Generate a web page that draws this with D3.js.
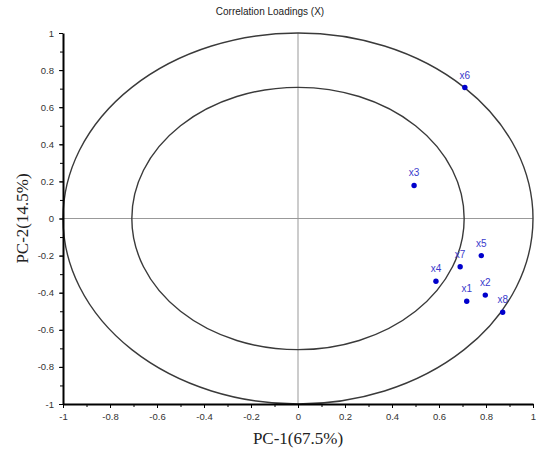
<!DOCTYPE html>
<html>
<head>
<meta charset="utf-8">
<script src="https://cdn.jsdelivr.net/npm/d3@7"></script>
<style>
  body { margin: 0; background: #fff; }
  svg { display: block; }
  .tick text { font-family: Arial, "Liberation Sans", sans-serif; font-size: 9.5px; fill: #333; }
</style>
</head>
<body>
<svg id="chart" width="536" height="452"></svg>
<script>
const labels = ['x1', 'x2', 'x3', 'x4', 'x5', 'x6', 'x7', 'x8'];
const pc1 = [0.718, 0.797, 0.494, 0.587, 0.780, 0.710, 0.690, 0.871];
const pc2 = [-0.446, -0.413, 0.178, -0.338, -0.200, 0.706, -0.260, -0.505];
const majorTicks = [-1, -0.8, -0.6, -0.4, -0.2, 0, 0.2, 0.4, 0.6, 0.8, 1];
const minorTicks = d3.range(-10, 11).map(i => i / 10);
const radii = [1, Math.sqrt(0.5)];

const svg = d3.select('#chart');
const m = { left: 63, right: 3, top: 33, bottom: 48 };
const W = 536, H = 452;

const x = d3.scaleLinear().domain([-1, 1]).range([m.left, W - m.right]);
const y = d3.scaleLinear().domain([-1, 1]).range([H - m.bottom, m.top]);

// title
svg.append('text')
  .attr('x', 270).attr('y', 15)
  .attr('text-anchor', 'middle')
  .style('font-family', 'Arial, "Liberation Sans", sans-serif')
  .style('font-size', '10px')
  .attr('fill', '#222')
  .text('Correlation Loadings (X)');

// crosshair
svg.append('line')
  .attr('x1', x(0)).attr('x2', x(0))
  .attr('y1', y(1)).attr('y2', y(-1))
  .attr('stroke', '#999').attr('stroke-width', 1);
svg.append('line')
  .attr('x1', x(-1)).attr('x2', x(1))
  .attr('y1', y(0)).attr('y2', y(0))
  .attr('stroke', '#999').attr('stroke-width', 1);

// correlation ellipses
svg.selectAll('.ring')
  .data(radii)
  .join('ellipse')
    .attr('class', 'ring')
    .attr('cx', x(0)).attr('cy', y(0))
    .attr('rx', r => x(r) - x(0))
    .attr('ry', r => y(0) - y(r))
    .attr('fill', 'none')
    .attr('stroke', '#3a3a3a')
    .attr('stroke-width', 1.4);

// minor ticks
svg.append('g')
  .attr('transform', `translate(0,${y(-1)})`)
  .call(d3.axisBottom(x).tickValues(minorTicks).tickSize(3).tickFormat(''))
  .call(ax => ax.select('.domain').remove());
svg.append('g')
  .attr('transform', `translate(${x(-1)},0)`)
  .call(d3.axisLeft(y).tickValues(minorTicks).tickSize(3).tickFormat(''))
  .call(ax => ax.select('.domain').remove());

// major axes
svg.append('g')
  .attr('transform', `translate(0,${y(-1)})`)
  .call(d3.axisBottom(x).tickValues(majorTicks).tickSize(4).tickSizeOuter(0).tickPadding(5).tickFormat(d => d))
  .call(ax => ax.select('.domain').attr('stroke-width', 2));
svg.append('g')
  .attr('transform', `translate(${x(-1)},0)`)
  .call(d3.axisLeft(y).tickValues(majorTicks).tickSize(4).tickSizeOuter(0).tickPadding(5).tickFormat(d => d))
  .call(ax => ax.select('.domain').attr('stroke-width', 2));

// axis titles
svg.append('text')
  .attr('x', x(0)).attr('y', 444)
  .attr('text-anchor', 'middle')
  .style('font-family', '"Liberation Serif", "Times New Roman", serif')
  .style('font-size', '17px')
  .attr('fill', '#222')
  .text('PC-1(67.5%)');
svg.append('text')
  .attr('transform', `translate(28,${y(0)}) rotate(-90)`)
  .attr('text-anchor', 'middle')
  .style('font-family', '"Liberation Serif", "Times New Roman", serif')
  .style('font-size', '17px')
  .attr('fill', '#222')
  .text('PC-2(14.5%)');

// loadings
const pts = svg.append('g').selectAll('g')
  .data(labels)
  .join('g')
    .attr('transform', (d, i) => `translate(${x(pc1[i])},${y(pc2[i])})`);
pts.append('circle').attr('r', 2.7).attr('fill', '#0000cc');
pts.append('text')
  .attr('x', 0).attr('y', -9)
  .attr('text-anchor', 'middle')
  .style('font-family', 'Arial, "Liberation Sans", sans-serif')
  .style('font-size', '10px')
  .attr('fill', '#3a3acc')
  .text(d => d);
</script>
</body>
</html>
